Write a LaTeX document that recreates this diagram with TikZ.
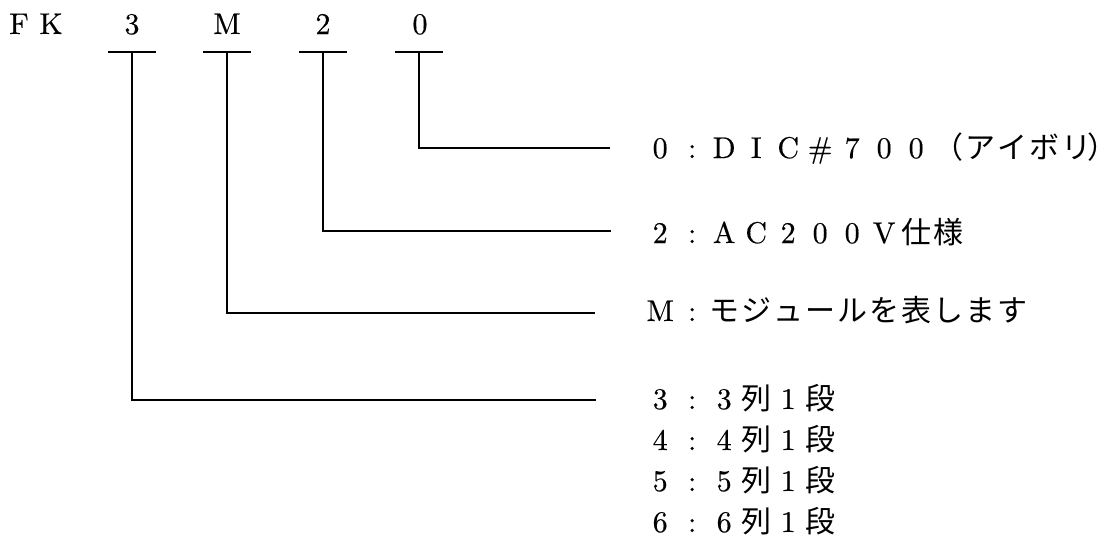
\documentclass[tikz,border=0pt]{standalone}
\usepackage{fontspec}
\setmainfont{lmroman10-regular.otf}[FakeBold=0.4]
\newfontfamily\cjk{Noto Sans CJK JP}
\newfontfamily\cjkhalf{Noto Sans CJK JP}[CharacterWidth=AlternateHalf]
\makeatletter
\def\fwl#1{\fw@loop#1\fw@end}
\def\fw@loop#1{\ifx#1\fw@end\else\makebox[32pt][c]{#1}\expandafter\fw@loop\fi}
\makeatother
\begin{document}
\begin{tikzpicture}[x=1pt,y=-1pt,
  txt/.style={inner sep=0pt, anchor=base west, font=\fontsize{30}{36}\selectfont},
  code/.style={inner sep=0pt, anchor=base, font=\fontsize{30}{36}\selectfont},
  bar/.style={draw, line width=1.6pt},
  link/.style={draw, line width=1.6pt}]
\useasboundingbox (0,0) rectangle (1106,536);
% code string
\node[code] (cF) at (19,34) {F};
\node[code] (cK) at (51,34) {K};
\node[code] (c3) at (132,34) {3};
\node[code] (cM) at (227,34) {M};
\node[code] (c2) at (323,34) {2};
\node[code] (c0) at (420,34) {0};
% bar tips
\coordinate (b3) at (132,52);
\coordinate (bM) at (227,52);
\coordinate (b2) at (323,52);
\coordinate (b0) at (419,52);
\foreach \b in {b3,bM,b2,b0}
  \draw[bar] ([xshift=-24pt]\b) -- ([xshift=24pt]\b);
% labels
\node[txt] (l0) at (644,158) {\fwl{0:DIC\#700}{\cjk\fwl{（アイボリ}}\makebox[10pt][l]{\kern-5pt\cjkhalf ）}};
\node[txt] (l2) at (644,243) {\fwl{2:AC200V}{\cjk\fwl{仕様}}};
\node[txt] (lM) at (644,321) {\fwl{M:}{\cjk\fwl{モジュールを表します}}};
\node[txt] (l3) at (644,409) {\fwl{3:3}{\cjk\fwl{列}}\fwl{1}{\cjk\fwl{段}}};
\node[txt] (l4) at (644,450) {\fwl{4:4}{\cjk\fwl{列}}\fwl{1}{\cjk\fwl{段}}};
\node[txt] (l5) at (644,491) {\fwl{5:5}{\cjk\fwl{列}}\fwl{1}{\cjk\fwl{段}}};
\node[txt] (l6) at (644,532) {\fwl{6:6}{\cjk\fwl{列}}\fwl{1}{\cjk\fwl{段}}};
% connector ends
\coordinate (e0) at (610,148);
\coordinate (e2) at (611,231);
\coordinate (eM) at (595,313);
\coordinate (e3) at (596,400);
\draw[link] (b0) |- (e0);
\draw[link] (b2) |- (e2);
\draw[link] (bM) |- (eM);
\draw[link] (b3) |- (e3);
\end{tikzpicture}
\end{document}
